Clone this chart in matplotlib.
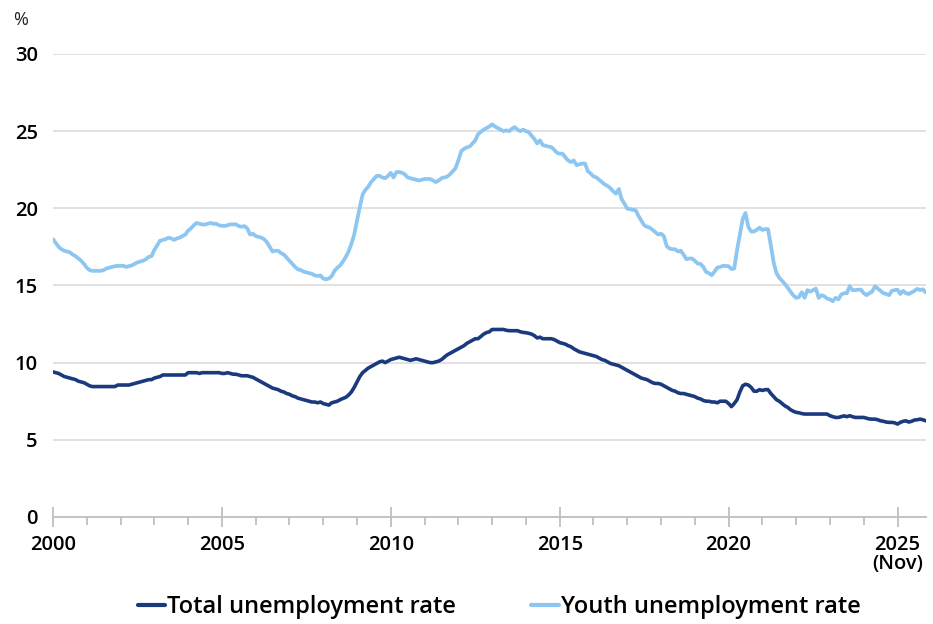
import matplotlib
matplotlib.use("Agg")
import matplotlib.pyplot as plt
import numpy as np
from matplotlib.ticker import MultipleLocator

plt.rcParams['font.family'] = ['Open Sans', 'DejaVu Sans']

# Monthly data, Jan 2000 .. Nov 2025 (percent)
total_rate = [
    9.4, 9.35, 9.3, 9.2, 9.1, 9.05, 9.0, 8.95, 8.9, 8.8, 8.75, 8.7,            # 2000
    8.6, 8.5, 8.45, 8.45, 8.45, 8.45, 8.45, 8.45, 8.45, 8.45, 8.45, 8.55,      # 2001
    8.55, 8.55, 8.55, 8.55, 8.6, 8.65, 8.7, 8.75, 8.8, 8.85, 8.9, 8.9,         # 2002
    9.0, 9.05, 9.1, 9.2, 9.2, 9.2, 9.2, 9.2, 9.2, 9.2, 9.2, 9.2,               # 2003
    9.35, 9.35, 9.35, 9.35, 9.3, 9.35, 9.35, 9.35, 9.35, 9.35, 9.35, 9.35,     # 2004
    9.3, 9.3, 9.35, 9.3, 9.25, 9.25, 9.2, 9.15, 9.15, 9.15, 9.1, 9.05,         # 2005
    8.95, 8.85, 8.75, 8.65, 8.55, 8.45, 8.35, 8.3, 8.25, 8.15, 8.1, 8.0,       # 2006
    7.95, 7.85, 7.8, 7.7, 7.65, 7.6, 7.55, 7.5, 7.45, 7.45, 7.4, 7.45,         # 2007
    7.35, 7.3, 7.25, 7.4, 7.45, 7.5, 7.6, 7.68, 7.75, 7.9, 8.1, 8.4,           # 2008
    8.75, 9.1, 9.35, 9.5, 9.65, 9.75, 9.85, 9.95, 10.05, 10.1, 10.0, 10.1,     # 2009
    10.2, 10.25, 10.3, 10.35, 10.3, 10.25, 10.2, 10.15, 10.2, 10.25, 10.2, 10.15,  # 2010
    10.1, 10.05, 10.0, 10.0, 10.05, 10.1, 10.2, 10.35, 10.5, 10.6, 10.7, 10.8,  # 2011
    10.9, 11.0, 11.1, 11.25, 11.35, 11.45, 11.55, 11.55, 11.7, 11.85, 11.95, 12.0,  # 2012
    12.15, 12.15, 12.15, 12.15, 12.15, 12.1, 12.07, 12.07, 12.07, 12.07, 12.0, 11.96,  # 2013
    11.94, 11.9, 11.85, 11.75, 11.6, 11.65, 11.55, 11.55, 11.55, 11.55, 11.5, 11.4,  # 2014
    11.3, 11.25, 11.2, 11.1, 11.03, 10.9, 10.8, 10.7, 10.65, 10.6, 10.55, 10.5,  # 2015
    10.45, 10.4, 10.3, 10.2, 10.15, 10.05, 9.95, 9.9, 9.85, 9.8, 9.7, 9.6,     # 2016
    9.5, 9.4, 9.3, 9.2, 9.1, 9.0, 8.95, 8.9, 8.8, 8.7, 8.65, 8.65,             # 2017
    8.6, 8.5, 8.4, 8.3, 8.2, 8.15, 8.05, 8.0, 8.0, 7.95, 7.9, 7.85,            # 2018
    7.8, 7.7, 7.65, 7.55, 7.5, 7.5, 7.45, 7.45, 7.4, 7.5, 7.5, 7.5,            # 2019
    7.35, 7.15, 7.35, 7.6, 8.1, 8.5, 8.6, 8.55, 8.4, 8.15, 8.15, 8.25,         # 2020
    8.2, 8.25, 8.25, 8.0, 7.8, 7.6, 7.5, 7.35, 7.2, 7.1, 6.95, 6.85,           # 2021
    6.78, 6.75, 6.7, 6.67, 6.67, 6.67, 6.67, 6.67, 6.67, 6.67, 6.67, 6.67,     # 2022
    6.56, 6.5, 6.45, 6.45, 6.5, 6.55, 6.5, 6.56, 6.5, 6.45, 6.45, 6.45,        # 2023
    6.45, 6.4, 6.35, 6.34, 6.34, 6.3, 6.23, 6.2, 6.15, 6.13, 6.13, 6.1,        # 2024
    6.02, 6.13, 6.2, 6.23, 6.15, 6.2, 6.28, 6.3, 6.34, 6.3, 6.23,              # 2025 (Jan-Nov)
]

youth_rate = [
    18.0, 17.75, 17.5, 17.35, 17.25, 17.2, 17.15, 17.0, 16.9, 16.75, 16.6, 16.4,   # 2000
    16.15, 16.0, 15.95, 15.95, 15.95, 15.95, 16.0, 16.1, 16.15, 16.2, 16.25, 16.27,  # 2001
    16.27, 16.27, 16.2, 16.25, 16.3, 16.4, 16.5, 16.55, 16.6, 16.7, 16.85, 16.9,  # 2002
    17.3, 17.6, 17.9, 17.95, 18.0, 18.1, 18.05, 17.95, 18.05, 18.1, 18.2, 18.3,  # 2003
    18.55, 18.7, 18.9, 19.05, 19.0, 18.95, 18.95, 19.0, 19.05, 19.0, 19.0, 18.9,  # 2004
    18.86, 18.86, 18.9, 18.96, 18.96, 18.96, 18.85, 18.8, 18.85, 18.7, 18.3, 18.35,  # 2005
    18.2, 18.15, 18.1, 18.0, 17.8, 17.5, 17.2, 17.25, 17.25, 17.1, 17.0, 16.8,   # 2006
    16.6, 16.4, 16.2, 16.05, 16.0, 15.9, 15.85, 15.8, 15.75, 15.65, 15.62, 15.65,  # 2007
    15.45, 15.4, 15.45, 15.6, 15.95, 16.15, 16.3, 16.55, 16.85, 17.2, 17.7, 18.3,  # 2008
    19.2, 20.1, 20.9, 21.2, 21.4, 21.7, 21.9, 22.1, 22.1, 22.0, 21.95, 22.1,     # 2009
    22.3, 22.0, 22.35, 22.35, 22.3, 22.2, 22.0, 21.95, 21.9, 21.85, 21.8, 21.85,  # 2010
    21.9, 21.9, 21.9, 21.8, 21.7, 21.8, 21.95, 22.0, 22.05, 22.2, 22.4, 22.6,    # 2011
    23.1, 23.7, 23.85, 23.95, 24.0, 24.2, 24.4, 24.8, 24.95, 25.1, 25.2, 25.3,   # 2012
    25.44, 25.3, 25.2, 25.1, 25.0, 25.05, 25.0, 25.15, 25.26, 25.1, 25.0, 25.1,  # 2013
    25.0, 24.94, 24.7, 24.5, 24.2, 24.4, 24.1, 24.05, 24.0, 23.97, 23.8, 23.6,   # 2014
    23.54, 23.54, 23.3, 23.1, 23.0, 23.1, 22.8, 22.85, 22.9, 22.9, 22.4, 22.25,  # 2015
    22.07, 22.0, 21.85, 21.7, 21.55, 21.45, 21.3, 21.1, 20.95, 21.25, 20.6, 20.3,  # 2016
    19.98, 19.95, 19.9, 19.87, 19.5, 19.2, 18.9, 18.8, 18.75, 18.6, 18.45, 18.3,  # 2017
    18.35, 18.2, 17.55, 17.4, 17.35, 17.35, 17.2, 17.25, 17.0, 16.7, 16.75, 16.75,  # 2018
    16.6, 16.42, 16.4, 16.2, 15.88, 15.8, 15.67, 15.9, 16.16, 16.2, 16.27, 16.27,  # 2019
    16.25, 16.07, 16.1, 17.3, 18.3, 19.3, 19.7, 18.8, 18.5, 18.5, 18.6, 18.75,   # 2020
    18.6, 18.65, 18.65, 17.6, 16.5, 15.8, 15.5, 15.3, 15.1, 14.85, 14.6, 14.35,  # 2021
    14.2, 14.25, 14.56, 14.2, 14.7, 14.6, 14.7, 14.8, 14.2, 14.37, 14.3, 14.15,  # 2022
    14.1, 13.98, 14.2, 14.1, 14.41, 14.5, 14.5, 14.95, 14.7, 14.7, 14.73, 14.73,  # 2023
    14.5, 14.37, 14.5, 14.6, 14.95, 14.8, 14.65, 14.5, 14.45, 14.37, 14.65, 14.7,  # 2024
    14.73, 14.45, 14.65, 14.5, 14.45, 14.55, 14.65, 14.78, 14.7, 14.75, 14.55,   # 2025 (Jan-Nov)
]

start_year = 2000
series_labels = ["Total unemployment rate", "Youth unemployment rate"]
y_ticks = [0, 5, 10, 15, 20, 25, 30]
x_tick_years = [2000, 2005, 2010, 2015, 2020, 2025]
x_tick_labels = ["2000", "2005", "2010", "2015", "2020", "2025\n(Nov)"]

n = len(total_rate)
t = start_year + np.arange(n) / 12.0

fig = plt.figure(figsize=(9.33, 6.24), dpi=100)
ax = fig.add_axes([0.0568, 0.1715, 0.9357, 0.742])

c_total = "#1B3A7E"
c_youth = "#8DC6F0"

l1, = ax.plot(t, total_rate, color=c_total, lw=2.6, solid_capstyle='round', solid_joinstyle='round', zorder=3)
l2, = ax.plot(t, youth_rate, color=c_youth, lw=2.7, solid_capstyle='round', solid_joinstyle='round', zorder=3)

ax.set_xlim(2000, t[-1] + 0.01)
ax.set_ylim(0, 30)
ax.set_yticks(y_ticks)
ax.set_yticklabels([str(v) for v in y_ticks])
ax.yaxis.grid(True, color="#D9D9D9", lw=1.1)
ax.set_axisbelow(True)

for s in ["top", "right", "left"]:
    ax.spines[s].set_visible(False)
ax.spines["bottom"].set_color("#BFBFBF")
ax.spines["bottom"].set_linewidth(1.3)
ax.spines["bottom"].set_zorder(2)

ax.set_xticks(x_tick_years)
ax.set_xticklabels(x_tick_labels)
ax.xaxis.set_minor_locator(MultipleLocator(1))
ax.tick_params(axis="x", which="major", direction="inout", length=14, width=1.3,
               color="#BFBFBF", pad=6, labelsize=14.5, labelcolor="black")
ax.tick_params(axis="x", which="minor", direction="out", length=6, width=1.3, color="#BFBFBF")
ax.tick_params(axis="y", which="both", length=0, pad=11, labelsize=14.5, labelcolor="black")
for lab in ax.get_xticklabels() + ax.get_yticklabels():
    lab.set_fontweight("semibold")
for lab in ax.get_xticklabels():
    lab.set_linespacing(0.95)

fig.text(0.022, 0.968, "%", fontsize=13, ha="center", va="center", color="#222222")

leg = fig.legend([l1, l2], series_labels, loc="center", bbox_to_anchor=(0.535, 0.027),
                 ncol=2, frameon=False, handlelength=1.15, handletextpad=0.1,
                 columnspacing=3.2, prop={"size": 17, "weight": "semibold"})
for h in leg.get_lines():
    h.set_linewidth(3.0)

fig.savefig("out.png", dpi=100)
